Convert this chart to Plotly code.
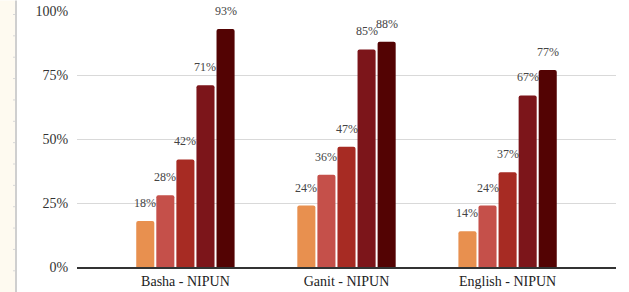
import plotly.graph_objects as go

categories = ["Basha - NIPUN", "Ganit - NIPUN", "English - NIPUN"]
series_names = ["S1", "S2", "S3", "S4", "S5"]
series_values = [
    [0.18, 0.24, 0.14],
    [0.28, 0.36, 0.24],
    [0.42, 0.47, 0.37],
    [0.71, 0.85, 0.67],
    [0.93, 0.88, 0.77],
]
colors = ["#E8904F", "#C5504A", "#A72B23", "#7C151A", "#530303"]
y_ticks = [0, 0.25, 0.5, 0.75, 1.0]
y_tick_labels = ["0%", "25%", "50%", "75%", "100%"]

W, H = 629, 292
ML, MR, MT, MB = 77, 13, 10.5, 25
PW = W - ML - MR
PH = H - MT - MB
XR = [-0.673, 2.673]
px_per_cat = PW / (XR[1] - XR[0])
BARGAP = 0.377
slot_px = px_per_cat * (1 - BARGAP) / len(series_names)

FONT = "Liberation Serif, Times New Roman, serif"

fig = go.Figure()
for name, vals, col in zip(series_names, series_values, colors):
    fig.add_trace(go.Bar(x=categories, y=vals, name=name, marker_color=col,
                         marker_line_width=0))

annotations = []
n = len(series_names)
for i, vals in enumerate(series_values):
    shift = (i - (n - 1) / 2) * slot_px
    for c, v in zip(categories, vals):
        annotations.append(dict(x=c, y=v, xref="x", yref="y", text=f"{round(v*100)}%",
                                showarrow=False, xshift=shift, yshift=18,
                                yanchor="middle", font=dict(family=FONT, size=12, color="#444")))

def px2paper_x(px):
    return (px - ML) / PW

def px2paper_y(py):
    return (H - MB - py) / PH

shapes = [
    dict(type="rect", xref="paper", yref="paper", x0=px2paper_x(0), x1=px2paper_x(15),
         y0=px2paper_y(H), y1=px2paper_y(0), fillcolor="#FEFAF0", line_width=0, layer="below"),
    dict(type="line", xref="paper", yref="paper", x0=px2paper_x(16), x1=px2paper_x(16),
         y0=px2paper_y(H), y1=px2paper_y(0), line=dict(color="#CFCFCF", width=2)),
]
k = 14.0
while k < H:
    shapes.append(dict(type="line", xref="paper", yref="paper", x0=px2paper_x(13), x1=px2paper_x(15),
                       y0=px2paper_y(k), y1=px2paper_y(k), line=dict(color="#D8D8D8", width=1)))
    k += 21.4

fig.update_layout(
    width=W, height=H,
    margin=dict(l=ML, r=MR, t=MT, b=MB, pad=0),
    paper_bgcolor="white", plot_bgcolor="white",
    barmode="group", bargap=BARGAP, bargroupgap=0.1, barcornerradius=2,
    showlegend=False,
    annotations=annotations,
    shapes=shapes,
    font=dict(family=FONT, color="#333"),
)
fig.update_xaxes(range=XR, showgrid=False, showline=True, linecolor="#333", linewidth=1.5,
                 ticks="", tickfont=dict(family=FONT, size=14, color="#222"), automargin=False,
                 fixedrange=True)
fig.update_yaxes(range=[0, 1], tickvals=y_ticks, ticktext=y_tick_labels, showgrid=True,
                 gridcolor="#D9D9D9", gridwidth=1, zeroline=False, showline=False,
                 ticks="outside", ticklen=5, tickcolor="rgba(0,0,0,0)",
                 tickfont=dict(family=FONT, size=14, color="#333"), automargin=False,
                 fixedrange=True)

fig.write_html("out.html", config={"displayModeBar": False},
               post_script="document.body.style.margin='0';document.body.style.overflow='hidden';")
